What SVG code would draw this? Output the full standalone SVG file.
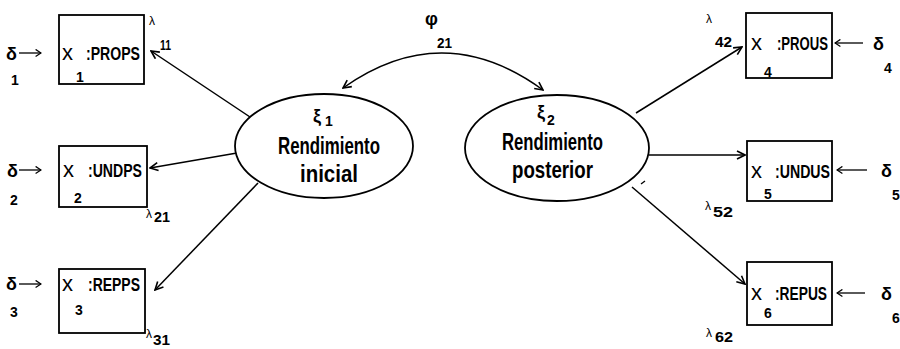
<svg xmlns="http://www.w3.org/2000/svg" width="900" height="349" viewBox="0 0 900 349">
<style>
text{font-family:"Liberation Sans",Arial,sans-serif;font-weight:bold;fill:#000}
.bx{fill:#fff;stroke:#000;stroke-width:1.8}
.el{fill:#fff;stroke:#000;stroke-width:1.8}
.t{font-size:18px}
.x{font-size:22px;font-weight:normal}
.s{font-size:14px}
.g{font-size:18px}
.lam{font-size:12px;font-weight:normal}
.n{font-size:15px}
.big{font-size:23px}
.c{fill:none;stroke:#000;stroke-width:1.5}
.d{fill:none;stroke:#000;stroke-width:1.3}
</style>
<defs>
<marker id="ah" viewBox="0 0 10 10" refX="9" refY="5" markerWidth="10" markerHeight="10" markerUnits="userSpaceOnUse" orient="auto-start-reverse">
<path d="M1,1 L9,5 L1,9" fill="none" stroke="#000" stroke-width="1.6"/>
</marker>
<marker id="ch" viewBox="0 0 10 10" refX="9" refY="5" markerWidth="9" markerHeight="9" markerUnits="userSpaceOnUse" orient="auto">
<path d="M3,1 L9,5 L3,9" fill="none" stroke="#000" stroke-width="1.4"/>
</marker>
</defs>
<g id="connectors">
<path class="c" d="M343,88 Q443,17 543,90" marker-start="url(#ah)" marker-end="url(#ah)"/>
<line class="c" x1="250" y1="117" x2="151" y2="51" marker-end="url(#ah)"/>
<line class="c" x1="237" y1="153" x2="150" y2="168" marker-end="url(#ah)"/>
<line class="c" x1="258" y1="183" x2="155" y2="290" marker-end="url(#ah)"/>
<line class="c" x1="636" y1="113" x2="742" y2="47" marker-end="url(#ah)"/>
<line class="c" x1="649" y1="155" x2="745" y2="155" marker-end="url(#ah)"/>
<line class="c" x1="632" y1="187" x2="745" y2="284" marker-end="url(#ah)"/>
<line class="d" x1="19" y1="53" x2="41" y2="53" marker-end="url(#ch)"/>
<line class="d" x1="19" y1="170" x2="41" y2="170" marker-end="url(#ch)"/>
<line class="d" x1="19" y1="284" x2="41" y2="284" marker-end="url(#ch)"/>
<line class="d" x1="863" y1="43" x2="835" y2="43" marker-end="url(#ch)"/>
<line class="d" x1="867" y1="170" x2="837" y2="170" marker-end="url(#ch)"/>
<line class="d" x1="865" y1="293" x2="837" y2="293" marker-end="url(#ch)"/>
<line class="d" x1="641" y1="184" x2="645" y2="181"/>
</g>
<g id="phi21">
<text class="g" x="425" y="25">φ</text>
<text class="n" x="437" y="48" textLength="15" lengthAdjust="spacingAndGlyphs">21</text>
</g>
<g id="xi1">
<ellipse class="el" cx="324" cy="146" rx="89" ry="52"/>
<text class="g" x="313" y="122">ξ</text>
<text class="s" x="325" y="126">1</text>
<text class="big" x="278" y="154" textLength="102" lengthAdjust="spacingAndGlyphs">Rendimiento</text>
<text class="big" x="300" y="182" textLength="58" lengthAdjust="spacingAndGlyphs">inicial</text>
</g>
<g id="xi2">
<ellipse class="el" cx="557" cy="148" rx="92" ry="53"/>
<text class="g" x="537" y="118">ξ</text>
<text class="s" x="547" y="125">2</text>
<text class="big" x="502" y="150" textLength="101" lengthAdjust="spacingAndGlyphs">Rendimiento</text>
<text class="big" x="512" y="178" textLength="81" lengthAdjust="spacingAndGlyphs">posterior</text>
</g>
<g id="x1">
<rect class="bx" x="59" y="15" width="85" height="69"/>
<text class="x" x="62" y="60">x</text>
<text class="t" x="86" y="60" textLength="54" lengthAdjust="spacingAndGlyphs">:PROPS</text>
<text class="s" x="76" y="82">1</text>
</g>
<g id="x2">
<rect class="bx" x="59" y="146" width="88" height="61"/>
<text class="x" x="63" y="177">x</text>
<text class="t" x="88" y="177" textLength="54" lengthAdjust="spacingAndGlyphs">:UNDPS</text>
<text class="s" x="74" y="203">2</text>
</g>
<g id="x3">
<rect class="bx" x="59" y="269" width="86" height="64"/>
<text class="x" x="62" y="291">x</text>
<text class="t" x="88" y="291" textLength="52" lengthAdjust="spacingAndGlyphs">:REPPS</text>
<text class="s" x="75" y="315">3</text>
</g>
<g id="x4">
<rect class="bx" x="746" y="13" width="86" height="65"/>
<text class="x" x="751" y="50">x</text>
<text class="t" x="777" y="50" textLength="51" lengthAdjust="spacingAndGlyphs">:PROUS</text>
<text class="s" x="764" y="77">4</text>
</g>
<g id="x5">
<rect class="bx" x="747" y="141" width="85" height="60"/>
<text class="x" x="751" y="178">x</text>
<text class="t" x="775" y="178" textLength="55" lengthAdjust="spacingAndGlyphs">:UNDUS</text>
<text class="s" x="764" y="199">5</text>
</g>
<g id="x6">
<rect class="bx" x="747" y="262" width="85" height="63"/>
<text class="x" x="751" y="300">x</text>
<text class="t" x="775" y="300" textLength="52" lengthAdjust="spacingAndGlyphs">:REPUS</text>
<text class="s" x="764" y="318">6</text>
</g>
<g id="delta1"><text class="g" x="6" y="60">δ</text><text class="s" x="11" y="85">1</text></g>
<g id="delta2"><text class="g" x="7" y="177">δ</text><text class="s" x="10" y="205">2</text></g>
<g id="delta3"><text class="g" x="6" y="290">δ</text><text class="s" x="10" y="317">3</text></g>
<g id="delta4"><text class="g" x="873" y="50">δ</text><text class="s" x="884" y="73">4</text></g>
<g id="delta5"><text class="g" x="881" y="177">δ</text><text class="s" x="892" y="200">5</text></g>
<g id="delta6"><text class="g" x="881" y="300">δ</text><text class="s" x="892" y="323">6</text></g>
<g id="lambda11"><text class="lam" x="149" y="25">λ</text><text class="n" x="160" y="50" textLength="11" lengthAdjust="spacingAndGlyphs">11</text></g>
<g id="lambda21"><text class="lam" x="146" y="218">λ</text><text class="n" x="154" y="222" textLength="16" lengthAdjust="spacingAndGlyphs">21</text></g>
<g id="lambda31"><text class="lam" x="146" y="338">λ</text><text class="n" x="153" y="345" textLength="17" lengthAdjust="spacingAndGlyphs">31</text></g>
<g id="lambda42"><text class="lam" x="706" y="23">λ</text><text class="n" x="715" y="47" textLength="17" lengthAdjust="spacingAndGlyphs">42</text></g>
<g id="lambda52"><text class="lam" x="705" y="210">λ</text><text class="n" x="713" y="217" textLength="20" lengthAdjust="spacingAndGlyphs">52</text></g>
<g id="lambda62"><text class="lam" x="706" y="337">λ</text><text class="n" x="715" y="342" textLength="18" lengthAdjust="spacingAndGlyphs">62</text></g>
</svg>
